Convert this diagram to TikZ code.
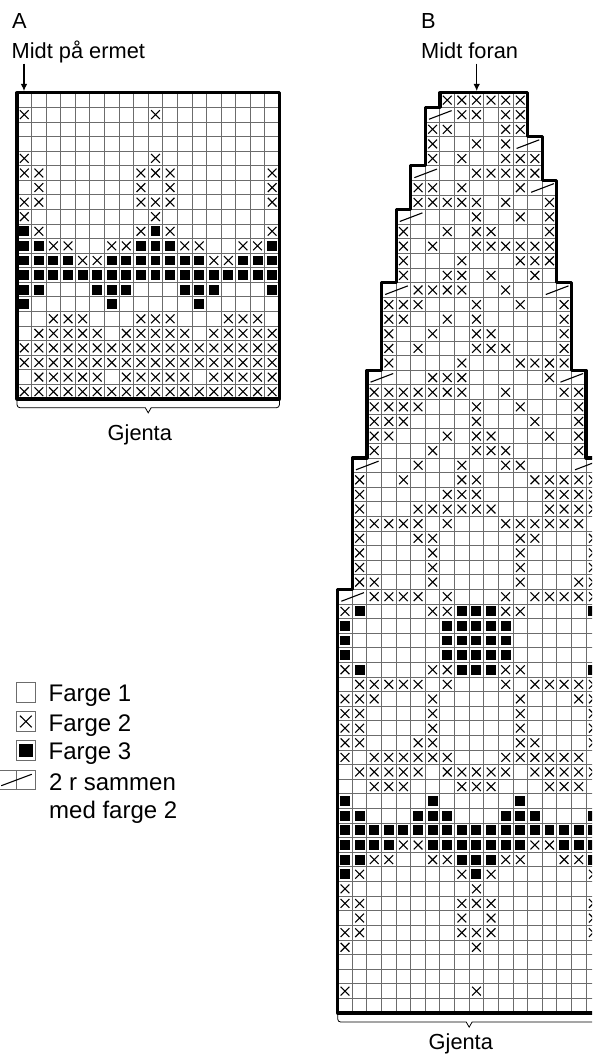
\documentclass[tikz,border=0pt]{standalone}
\usepackage{fontspec}
\setmainfont{Liberation Sans}
\usetikzlibrary{arrows.meta,positioning,calc}

\begin{document}
\begin{tikzpicture}[x=1pt,y=-1pt,
  lbl/.style={font=\fontsize{21.8}{25}\selectfont, anchor=base west, inner sep=0pt, text depth=4.5pt},
  leg/.style={lbl, font=\fontsize{24}{28}\selectfont},
  gridl/.style={gray!85!black, line width=.9pt},
  outl/.style={black, line width=3.2pt, line join=round},
  markl/.style={black, line width=1.1pt},
  brk/.style={black, line width=.8pt},
  arr/.style={black, line width=1.1pt, -{Latex[length=7pt,width=6.5pt]}},
  xcell/.pic={\draw[markl] (.2,.2)--(.8,.8) (.8,.2)--(.2,.8);},
  fcell/.pic={\fill[black] (.16,.16) rectangle (.84,.84);},
  slcell/.pic={\draw[markl] (.25,.81)--(1.8,.22);}]
\useasboundingbox (0,0) rectangle (592,1054);
\clip (0,0) rectangle (592,1054);

% labels
\node[lbl] (titleA) at (12,28.5)   {A};
\node[lbl] (midA)   at (11.5,59)   {Midt på ermet};
\node[lbl] (repA)   at (107.5,440) {Gjenta};
\node[lbl] (titleB) at (421,28.5)  {B};
\node[lbl] (midB)   at (421,59)    {Midt foran};
\node[lbl] (repB)   at (428.5,1049.5) {Gjenta};
\coordinate (tipA) at (24,91);
\coordinate (tipB) at (476.7,91);
\draw[arr] (midA.south -| tipA) -- (tipA);
\draw[arr] (midB.south -| tipB) -- (tipB);

% chart A
\begin{scope}[shift={(17,92.8)},x=14.58pt,y=-14.58pt]
\foreach \i in {1,...,20} \draw[gridl] (0,\i)--(18,\i);
\foreach \i in {1,...,17} \draw[gridl] (\i,0)--(\i,21);
\foreach \r/\cs in {1/{0,9},4/{0,9},5/{0,1,8,9,10,17},6/{1,8,10,17},7/{0,1,8,9,10,17},8/{0,9},
  9/{1,8,10,17},10/{2,3,6,7,11,12,15,16},11/{4,5,13,14},15/{2,3,4,8,9,10,14,15,16},
  16/{1,2,3,4,5,7,8,9,10,11,13,14,15,16,17},17/{0,...,17},18/{0,...,17},
  19/{1,2,3,4,5,7,8,9,10,11,13,14,15,16,17},20/{0,...,17}}
  \foreach \c in \cs \pic at (\c,\r) {xcell};
\foreach \r/\cs in {9/{0,9},10/{0,1,8,9,10,17},11/{0,1,2,3,6,7,8,9,10,11,12,15,16,17},12/{0,...,17},
  13/{0,1,5,6,7,11,12,13,17},14/{0,6,12}}
  \foreach \c in \cs \pic at (\c,\r) {fcell};
\draw[outl] (0,0) rectangle (18,21);
\draw[brk] (0,21.12) [rounded corners=3pt] -- (0,21.6) [sharp corners] -- (8.8,21.6) -- (9,21.95) -- (9.2,21.6)
  [rounded corners=3pt] -- (18,21.6) -- (18,21.12);
\end{scope}

% chart B
\begin{scope}[shift={(337.7,92.8)},x=14.606pt,y=-14.606pt]
\path[save path=\outlineB] (7,0)-|(13,3)-|(14,6)-|(15,13)-|(16,19)-|(17,25)-|(18,63)
  -|(0,34)-|(1,25)-|(2,19)-|(3,13)-|(4,8)-|(5,5)-|(6,1)-|(7,0)--cycle;
\begin{scope}
\clip[use path=\outlineB];
\foreach \i in {1,...,62} \draw[gridl] (0,\i)--(18,\i);
\foreach \i in {1,...,17} \draw[gridl] (\i,0)--(\i,63);
\end{scope}
\foreach \r/\cs in {0/{7,8,9,10,11,12},1/{8,9,11,12},2/{6,7,11,12},3/{6,9,11},4/{6,8,11,12,13},
  5/{9,10,11,12,13},6/{5,6,8,12},7/{5,6,7,8,9,11,14},8/{9,12,14},9/{4,7,9,10,14},
  10/{4,6,9,10,11,12,13,14},11/{4,8,12,13,14},12/{4,7,8,10,13},13/{5,6,7,8,11},
  14/{3,4,5,9,12,15},15/{3,4,7,9,15},16/{3,6,9,10,15},17/{3,5,9,10,11,15},18/{3,8,12,13,14,15},
  19/{6,7,8,14},20/{2,3,4,5,6,7,8,11,15,16},21/{2,3,4,5,9,12,16},22/{2,3,4,9,13,16},
  23/{2,3,7,9,10,14,16},24/{2,6,9,10,11,16},25/{5,8,11,12},26/{1,4,8,9,13,14,15,16,17},
  27/{1,7,8,9,14,15,16,17},28/{1,5,6,7,8,9,10,14,15,16,17},29/{1,2,3,4,5,7,11,12,13,14,15,16},
  30/{1,5,6,12,13,17},31/{1,6,12,17},32/{1,6,12,17},33/{1,2,6,12,16,17},
  34/{2,3,4,5,7,11,13,14,15,16,17},35/{0,6,7,11,12},39/{0,6,7,11,12},
  40/{1,2,3,4,5,7,11,13,14,15,16,17},41/{0,1,2,6,12,16,17},42/{0,1,6,12,17},43/{0,1,6,12,17},
  44/{0,1,5,6,12,13,17},45/{0,2,3,4,5,6,7,11,12,13,14,15,16},46/{1,2,3,4,5,7,8,9,10,11,13,14,15,16,17},
  47/{2,3,4,8,9,10,14,15,16},51/{4,5,13,14},52/{2,3,6,7,11,12,15,16},53/{1,8,10,17},
  54/{0,9},55/{0,1,8,9,10,17},56/{1,8,10,17},57/{0,1,8,9,10,17},58/{0,9},61/{0,9}}
  \foreach \c in \cs \pic at (\c,\r) {xcell};
\foreach \r/\cs in {35/{1,8,9,10,17},36/{0,7,8,9,10,11},37/{0,7,8,9,10,11},38/{0,7,8,9,10,11},
  39/{1,8,9,10,17},48/{0,6,12},49/{0,1,5,6,7,11,12,13,17},50/{0,...,17},
  51/{0,1,2,3,6,7,8,9,10,11,12,15,16,17},52/{0,1,8,9,10,17},53/{0,9}}
  \foreach \c in \cs \pic at (\c,\r) {fcell};
% two rows together
\foreach \c/\r in {6/1,12/3,5/5,13/6,4/8,3/13,14/13,2/19,15/19,1/25,16/25,0/34}
  \pic at (\c,\r) {slcell};
\draw[outl,use path=\outlineB];
\draw[brk] (0,63.15) [rounded corners=3pt] -- (0,63.62) [sharp corners] -- (8.8,63.62) -- (9,63.97) -- (9.2,63.62)
  [rounded corners=3pt] -- (18,63.62) -- (18,63.15);
\end{scope}

% legend
\begin{scope}[shift={(16,682.7)},x=19.7pt,y=-19.4pt]
\draw[gridl] (0,0) rectangle (1,1);
\draw[gridl] (0,1.5) rectangle (1,2.5);
\pic at (0,1.5) {xcell};
\draw[gridl] (0,3) rectangle (1,4);
\pic at (0,3) {fcell};
\draw[gridl] (-1,4.5) rectangle (1,5.5) (0,4.5) -- (0,5.5);
\pic at (-1,4.5) {slcell};
\end{scope}
\node[leg] (f1)  at (48.4,701.7) {Farge 1};
\node[leg] (f2)  at (48.4,731)   {Farge 2};
\node[leg] (f3)  at (48.4,759.6) {Farge 3};
\node[leg] (f4)  at (49,790)     {2 r sammen};
\node[leg] (f4b) at (49,818.5)   {med farge 2};
\end{tikzpicture}
\end{document}
